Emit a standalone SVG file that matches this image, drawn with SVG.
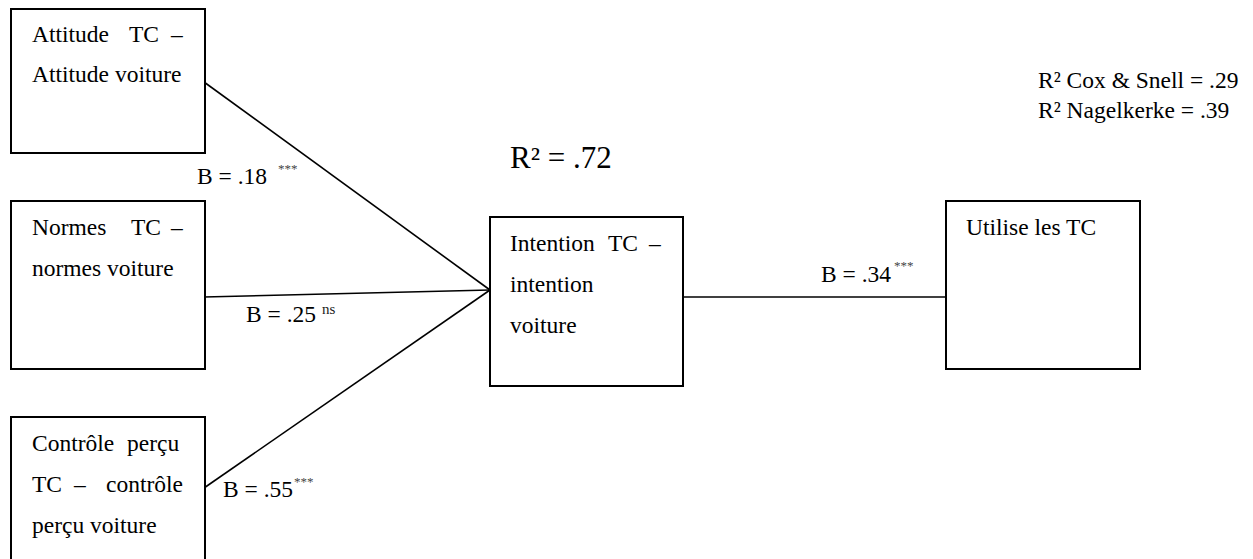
<svg xmlns="http://www.w3.org/2000/svg" width="1253" height="559" viewBox="0 0 1253 559">
  <style>
    .box { fill: #ffffff; stroke: #000000; stroke-width: 2; }
    .link { stroke: #000000; stroke-width: 1.6; fill: none; }
    text { font-family: "Liberation Serif", "Times New Roman", Times, serif; fill: #000000; }
    .t { font-size: 23.5px; }
    .big { font-size: 31px; }
    .sup { font-size: 13px; fill: #444444; }
    .ns { font-size: 15px; fill: #222222; }
  </style>
  <rect width="1253" height="559" fill="#ffffff"/>

  <!-- paths between constructs -->
  <g id="connectors">
    <line class="link" x1="204" y1="82" x2="490" y2="290"/>
    <line class="link" x1="204" y1="297" x2="490" y2="290"/>
    <line class="link" x1="204" y1="488" x2="490" y2="290"/>
    <line class="link" x1="683" y1="297" x2="946" y2="297"/>
  </g>

  <g id="node-attitude">
    <rect class="box" x="11" y="9" width="194" height="144"/>
    <text class="t" y="42"><tspan x="32">Attitude</tspan><tspan x="129">TC</tspan><tspan x="171">–</tspan></text>
    <text class="t" x="32" y="82">Attitude voiture</text>
  </g>

  <g id="node-normes">
    <rect class="box" x="11" y="201" width="194" height="168"/>
    <text class="t" y="235"><tspan x="32">Normes</tspan><tspan x="131">TC</tspan><tspan x="171">–</tspan></text>
    <text class="t" x="32" y="276">normes voiture</text>
  </g>

  <g id="node-controle">
    <rect class="box" x="11" y="417" width="194" height="160"/>
    <text class="t" y="451"><tspan x="32">Contrôle</tspan><tspan x="127">perçu</tspan></text>
    <text class="t" y="492"><tspan x="32">TC</tspan><tspan x="74">–</tspan><tspan x="106">contrôle</tspan></text>
    <text class="t" x="32" y="533">perçu voiture</text>
  </g>

  <g id="node-intention">
    <rect class="box" x="490" y="217" width="193" height="169"/>
    <text class="t" y="251"><tspan x="510">Intention</tspan><tspan x="608">TC</tspan><tspan x="649">–</tspan></text>
    <text class="t" x="510" y="292">intention</text>
    <text class="t" x="510" y="333">voiture</text>
  </g>

  <g id="node-utilise">
    <rect class="box" x="946" y="201" width="194" height="168"/>
    <text class="t" x="966" y="235">Utilise les TC</text>
  </g>

  <!-- coefficients and fit statistics -->
  <g id="labels">
    <text class="t" x="197" y="184">B = .18</text>
    <text class="sup" x="278" y="173">***</text>
    <text class="t" x="246" y="322">B = .25</text>
    <text class="ns" x="322" y="314">ns</text>
    <text class="t" x="223" y="497">B = .55</text>
    <text class="sup" x="294" y="486">***</text>
    <text class="t" x="821" y="282">B = .34</text>
    <text class="sup" x="894" y="270">***</text>
    <text class="big" x="510" y="168">R² = .72</text>
    <text class="t" x="1038" y="88">R² Cox &amp; Snell = .29</text>
    <text class="t" x="1038" y="118">R² Nagelkerke = .39</text>
  </g>
</svg>
